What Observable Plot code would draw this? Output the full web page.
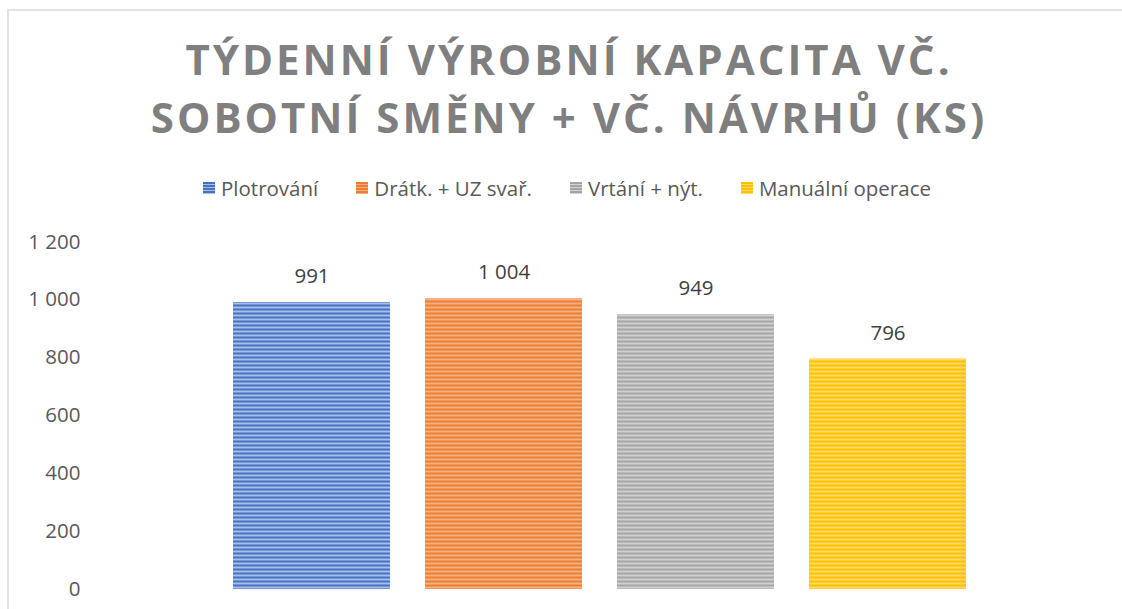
<!DOCTYPE html>
<html>
<head>
<meta charset="utf-8">
<script src="https://cdn.jsdelivr.net/npm/d3@7"></script>
<script src="https://cdn.jsdelivr.net/npm/@observablehq/plot@0.6"></script>
<style>
  html, body { margin: 0; padding: 0; background: #fff; overflow: hidden; width: 1122px; height: 609px; }
  body { position: relative; font-family: "Open Sans", sans-serif; }
  #frame { position: absolute; left: 7px; top: 9px; width: 3000px; height: 3000px;
           border-top: 2px solid #e3e3e3; border-left: 2px solid #e3e3e3; box-sizing: border-box; }
  #title { position: absolute; left: 16px; width: 1106px; top: 30px; text-align: center;
           font-weight: 700; font-size: 42px; line-height: 58px; letter-spacing: 3px; color: #7f7f7f; }
  #legend { position: absolute; left: 12px; width: 1110px; top: 174px; display: flex; justify-content: center;
            gap: 38px; font-size: 20.5px; color: #595959; line-height: 28px; }
  .item { display: flex; align-items: center; gap: 6px; white-space: nowrap; }
  .sw { width: 12px; height: 12px; display: inline-block; }
  #chart { position: absolute; left: 0; top: 220px; }
</style>
</head>
<body>
<div id="frame"></div>
<div id="title"></div>
<div id="legend"></div>
<div id="chart"></div>
<script>
const titleLines = ["TÝDENNÍ VÝROBNÍ KAPACITA VČ.", "SOBOTNÍ SMĚNY + VČ. NÁVRHŮ (KS)"];
const categories = ["Plotrování", "Drátk. + UZ svař.", "Vrtání + nýt.", "Manuální operace"];
const values = [991, 1004, 949, 796];
const colorsDark = ["#4472C4", "#ED7D31", "#A5A5A5", "#FFC000"];
const colorsLight = ["#a9bde6", "#f4b084", "#d0d0d0", "#ffd966"];
const yTicks = [0, 200, 400, 600, 800, 1000, 1200];

const fmt = d => d >= 1000 ? `${Math.floor(d / 1000)} ${String(d % 1000).padStart(3, "0")}` : `${d}`;

document.getElementById("title").innerHTML = titleLines.map(t => `<div>${t}</div>`).join("");

const legend = document.getElementById("legend");
categories.forEach((c, i) => {
  const it = document.createElement("div");
  it.className = "item";
  const sw = document.createElement("span");
  sw.className = "sw";
  sw.style.background = `repeating-linear-gradient(to bottom, ${colorsDark[i]} 0 2px, ${colorsLight[i]} 2px 3px)`;
  const tx = document.createElement("span");
  tx.textContent = c;
  it.appendChild(sw); it.appendChild(tx);
  legend.appendChild(it);
});

const data = categories.map((c, i) => ({cat: c, value: values[i], idx: i}));

const plot = Plot.plot({
  width: 1122,
  height: 389,
  marginLeft: 95,
  marginRight: 18,
  marginTop: 21.5,
  marginBottom: 20,
  style: {fontFamily: "'Open Sans', sans-serif", fontSize: "20px", color: "#595959", background: "transparent", overflow: "visible"},
  x: {domain: categories, padding: 0.181, paddingOuter: 0.7047, align: 0.5, axis: null},
  y: {domain: [0, 1200], ticks: yTicks, tickFormat: fmt, label: null},
  color: {type: "identity"},
  marks: [
    Plot.axisY({ticks: yTicks, tickFormat: fmt, tickSize: 0, tickPadding: 15, label: null, fontSize: 20.5}),
    Plot.barY(data, {x: "cat", y: "value", fill: d => `url(#pat${d.idx})`}),
    Plot.text(data, {x: "cat", y: "value", text: d => fmt(d.value), dy: -26, fill: "#404040", fontSize: 20.5, lineAnchor: "middle"})
  ]
});

const defs = d3.select(plot).insert("defs", ":first-child");
colorsDark.forEach((c, i) => {
  const p = defs.append("pattern").attr("id", `pat${i}`).attr("patternUnits", "userSpaceOnUse")
    .attr("width", 8).attr("height", 4).attr("y", 0.5);
  p.append("rect").attr("width", 8).attr("height", 4).attr("fill", colorsLight[i]);
  p.append("rect").attr("width", 8).attr("height", 2).attr("fill", c);
});

document.getElementById("chart").appendChild(plot);
</script>
</body>
</html>
